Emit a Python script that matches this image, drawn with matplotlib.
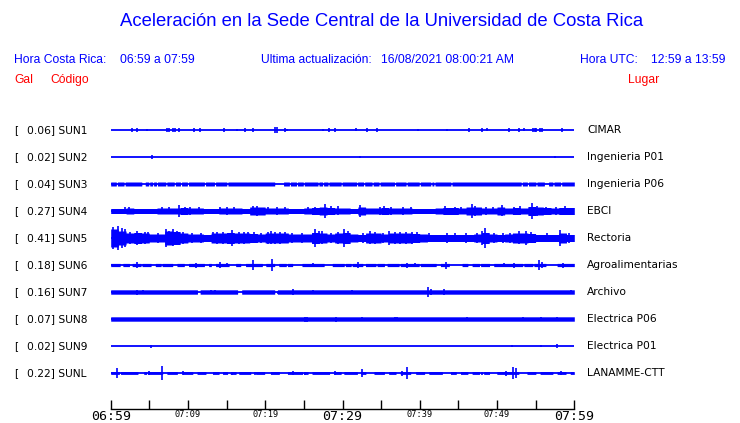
import numpy as np
import matplotlib
matplotlib.use("Agg")
import matplotlib.pyplot as plt

BLUE = "#0000ff"
RED = "#ff0000"

# station info
codes = ["SUN1", "SUN2", "SUN3", "SUN4", "SUN5", "SUN6", "SUN7", "SUN8", "SUN9", "SUNL"]
gal = ["0.06", "0.02", "0.04", "0.27", "0.41", "0.18", "0.16", "0.07", "0.02", "0.22"]
places = ["CIMAR", "Ingenieria P01", "Ingenieria P06", "EBCI", "Rectoria",
          "Agroalimentarias", "Archivo", "Electrica P06", "Electrica P01", "LANAMME-CTT"]

tick_min = list(range(0, 61, 5))
tick_txt = ["06:59", "", "07:09", "", "07:19", "", "07:29", "", "07:39", "", "07:49", "", "07:59"]
big_ticks = ["06:59", "07:29", "07:59"]

# steady band half-width of each trace (display units, one row = 27)
band = [0, 0, 2.0, 0, 0, 1.6, 2.2, 2.2, 0, 1.4]

# per-minute envelope for the busy traces
env_SUN4 = [2.5, 2.5, 3, 2.5, 2.5, 2.5, 3, 3, 3, 3.5, 3, 3, 2.5, 2.5, 3, 3, 3, 2.5, 4, 4,
            3, 3, 3, 2.5, 2.5, 3, 3.5, 4, 3.5, 3, 3, 2.5, 4, 3, 3, 3.5, 3, 3, 3, 2.5,
            2.5, 2.5, 3, 3.5, 3.5, 3, 4, 4, 3, 3, 4, 3, 3.5, 3, 4.5, 4, 3.5, 3, 3.5, 3.5]
env_SUN5 = [9, 7, 5, 5.5, 5, 4, 4, 7, 6.5, 5, 4, 4, 3.5, 5, 5, 5.5, 5, 5, 4.5, 4,
            5, 5, 5, 4, 4, 4, 5.5, 5, 4, 5, 5.5, 4, 3.5, 5, 5, 4, 5, 5, 5, 4.5,
            4, 3.5, 3.5, 3.5, 3.5, 3.5, 3.5, 4, 5.5, 4, 3.5, 4, 5, 5, 4.5, 3.5, 3.5, 3.5, 5, 3.5]
envelopes = {"SUN4": env_SUN4, "SUN5": env_SUN5}

# stretches (minutes) where the band drops to a plain line
thin_SUN3 = [(0.8, 0.8), (1.8, 1.8), (4.1, 4.4), (5.0, 5.0), (5.5, 5.5), (6.0, 6.0), (7.2, 7.2),
             (8.3, 8.3), (9.1, 9.1), (10.0, 10.0), (12.2, 12.2), (13.5, 13.5), (15.1, 15.1),
             (21.3, 22.3), (23.2, 23.2), (24.1, 24.1), (25.0, 25.0), (26.9, 26.9), (27.5, 27.5),
             (28.2, 28.2), (29.9, 29.9), (31.9, 31.9), (32.8, 32.8), (33.9, 33.9), (34.8, 34.8),
             (36.8, 36.8), (38.3, 38.3), (40.0, 40.0), (41.5, 41.5), (41.9, 41.9), (44.1, 44.1),
             (53.2, 53.2), (54.0, 54.0), (55.1, 55.1), (56.2, 56.6), (57.3, 57.3), (58.3, 58.3)]
thin_SUN6 = [(1.3, 1.5), (2.5, 2.7), (4.0, 4.0), (5.3, 5.7), (6.6, 6.6), (8.1, 8.5), (9.6, 10.0),
             (12.2, 12.6), (13.1, 13.5), (15.4, 16.1), (16.9, 17.4), (19.7, 20.0), (21.3, 21.7),
             (22.8, 22.8), (23.6, 24.7), (27.7, 28.6), (30.3, 30.3), (31.2, 31.2), (32.7, 32.9),
             (34.4, 34.4), (35.5, 35.7), (37.4, 37.4), (40.0, 40.0), (42.2, 42.6), (43.9, 45.4),
             (46.3, 46.7), (47.8, 47.8), (49.1, 49.5), (53.4, 53.4), (54.7, 54.7), (56.4, 57.7)]
thin_SUN7 = [(11.3, 11.5), (16.5, 16.9), (21.3, 21.5)]
thin_SUNL = [(1.2, 1.2), (3.6, 4.2), (4.7, 4.7), (6.8, 7.2), (8.7, 9.2), (10.7, 11.1), (12.4, 13.1),
             (14.1, 14.4), (15.2, 15.4), (16.3, 16.5), (18.2, 18.7), (20.0, 20.6), (21.9, 22.8),
             (24.9, 24.9), (25.6, 26.0), (28.4, 28.8), (29.9, 30.1), (32.0, 32.3), (33.1, 34.0),
             (35.5, 35.9), (37.0, 37.4), (38.9, 39.4), (40.7, 41.1), (43.0, 43.9), (44.8, 45.2),
             (46.3, 46.7), (47.8, 48.2), (49.1, 49.9), (52.9, 53.8), (55.1, 55.5), (57.3, 57.7),
             (59.0, 59.4)]
thin = {"SUN3": thin_SUN3, "SUN6": thin_SUN6, "SUN7": thin_SUN7, "SUNL": thin_SUNL}

# spikes: (minute, half amplitude)
spk_SUN1 = [(2.8, 2.0), (3.4, 2.0), (4.7, 1.4), (7.3, 2.2), (7.5, 2.2), (8.1, 2.2), (8.3, 2.2),
            (8.9, 1.9), (10.8, 1.9), (11.5, 1.9), (14.6, 1.9), (16.3, 1.4), (17.4, 1.9),
            (18.4, 1.9), (21.3, 2.7), (21.5, 2.7), (22.5, 1.9), (22.8, 1.4), (27.5, 1.4),
            (28.3, 1.9), (29.0, 1.9), (31.7, 1.5), (33.2, 2.0), (34.5, 2.0), (39.8, 1.4),
            (43.5, 1.4), (46.4, 2.0), (48.0, 1.9), (48.7, 1.5), (51.6, 1.9), (52.9, 2.2),
            (53.5, 1.5), (54.6, 2.0), (54.9, 2.0), (55.1, 2.0), (55.5, 2.0), (55.8, 2.0), (58.4, 1.9)]
spk_SUN2 = [(5.3, 2.2), (32.3, 1.4), (57.5, 1.4)]
spk_SUN3 = []
spk_SUN4 = [(1.8, 3.5), (2.4, 3.5), (6.6, 3.5), (7.5, 3.5), (8.9, 6.0), (9.6, 4.0), (10.3, 4.0),
            (11.4, 3.5), (14.2, 3.5), (15.1, 4.0), (16.0, 3.5), (18.4, 4.5), (18.9, 5.0),
            (20.4, 3.5), (21.5, 4.0), (22.6, 3.5), (25.5, 3.5), (26.5, 4.0), (27.7, 7.0),
            (28.5, 4.5), (29.4, 4.5), (32.3, 6.0), (34.8, 4.0), (35.4, 4.5), (36.3, 4.0),
            (37.8, 4.0), (38.9, 3.5), (43.3, 4.5), (44.5, 4.0), (45.3, 3.5), (46.8, 7.0),
            (47.2, 5.0), (48.6, 4.0), (49.5, 3.5), (50.6, 5.5), (52.2, 4.0), (53.0, 4.5),
            (54.5, 8.0), (55.2, 5.0), (56.4, 4.0), (57.6, 4.0), (58.8, 4.5)]
spk_SUN5 = [(0.3, 11), (0.6, 8), (0.9, 12), (1.4, 10), (1.9, 9), (2.5, 6), (3.4, 7), (4.4, 6),
            (4.8, 5.5), (6.1, 5), (7.2, 9), (7.6, 7), (8.0, 8.5), (8.6, 7), (9.3, 6), (10.5, 5),
            (11.7, 5), (13.3, 5.5), (13.8, 6), (14.5, 6), (15.7, 8), (16.6, 6), (17.2, 6),
            (17.8, 5.5), (18.6, 5.5), (19.5, 5), (20.3, 6), (20.8, 6.5), (21.3, 6), (21.9, 6),
            (22.6, 5.5), (23.5, 5), (24.8, 5), (26.4, 9), (26.9, 6.5), (27.3, 6.5), (28.5, 5),
            (29.4, 6), (30.2, 9), (30.7, 6.5), (32.7, 5), (33.6, 6.5), (34.2, 6), (35.2, 5),
            (36.0, 7), (36.8, 6), (37.5, 6), (38.2, 6), (39.0, 6), (39.7, 5.5), (41.2, 4.5),
            (43.5, 5), (44.6, 4.5), (46.0, 5), (47.4, 5), (48.1, 7), (48.4, 10), (49.6, 5),
            (50.8, 5), (51.7, 5), (52.9, 6.5), (53.7, 7), (54.4, 5.5), (56.5, 4.5), (58.2, 8),
            (59.3, 5)]
spk_SUN6 = [(3.4, 3.0), (11.1, 2.5), (14.1, 3.0), (15.1, 2.0), (18.4, 5.0), (20.9, 6.0), (26.2, 2.0),
            (32.0, 3.0), (38.3, 2.5), (39.4, 2.0), (43.4, 3.5), (50.9, 2.0), (52.2, 2.5),
            (55.4, 5.0), (55.8, 3.0), (58.6, 2.5)]
spk_SUN7 = [(3.4, 2.5), (4.2, 2.0), (4.7, 1.5), (9.6, 1.5), (11.8, 1.5), (13.0, 2.0), (13.5, 2.0),
            (14.7, 1.5), (18.3, 1.5), (19.6, 1.5), (21.6, 1.5), (23.6, 3.0), (26.2, 2.0),
            (28.6, 1.5), (29.4, 1.5), (30.2, 1.5), (31.2, 2.0), (31.5, 1.5), (41.1, 5.0),
            (41.4, 3.0), (43.2, 3.0), (50.6, 1.5), (53.2, 1.5), (56.5, 1.5), (57.3, 1.5), (59.6, 2.0)]
spk_SUN8 = [(12.5, 1.5), (15.2, 1.5), (19.5, 1.5), (25.1, 2.5), (25.4, 2.5), (29.2, 2.5),
            (32.5, 2.0), (34.8, 1.5), (36.8, 2.3), (37.0, 2.3), (46.1, 2.0), (49.4, 1.5),
            (51.8, 1.5), (53.4, 2.0), (55.7, 2.0), (57.7, 2.0)]
spk_SUN9 = [(5.2, 1.5), (52.0, 1.0), (55.7, 1.3), (57.7, 1.6)]
spk_SUNL = [(0.8, 5.0), (4.9, 2.0), (6.7, 7.0), (9.4, 2.0), (15.7, 1.5), (18.7, 1.5), (23.6, 2.0),
            (25.1, 1.5), (29.0, 2.0), (32.5, 4.0), (37.7, 2.5), (38.4, 6.0), (48.0, 1.5),
            (51.2, 2.5), (52.1, 6.0), (52.4, 5.0), (58.3, 2.0)]
spikes = {"SUN1": spk_SUN1, "SUN2": spk_SUN2, "SUN3": spk_SUN3, "SUN4": spk_SUN4,
          "SUN5": spk_SUN5, "SUN6": spk_SUN6, "SUN7": spk_SUN7, "SUN8": spk_SUN8,
          "SUN9": spk_SUN9, "SUNL": spk_SUNL}

W, H = 740, 423
fig = plt.figure(figsize=(W / 100, H / 100), dpi=100)
fig.patch.set_facecolor("white")

row = 27.0
x0, x1 = 110.7, 574.3
top_px = 130 - row / 2
ax = fig.add_axes([x0 / W, 1 - (top_px + 10 * row) / H, (x1 - x0) / W, 10 * row / H])
ax.set_xlim(0, 60)
ax.set_ylim(-9.5 * row, 0.5 * row)
ax.axis("off")

t = np.linspace(0, 60, 3001)
for i, c in enumerate(codes):
    y0 = -i * row
    ax.plot(t[[0, -1]], [y0, y0], color=BLUE, lw=1.3, solid_capstyle="butt")
    if c in envelopes:
        idx = np.minimum(t.astype(int), 59)
        env = np.array(envelopes[c], dtype=float)[idx]
    else:
        env = np.full_like(t, band[i])
    for a, b in thin.get(c, []):
        env[(t >= a - 0.06) & (t <= b + 0.06)] = 0
    if env.max() > 0:
        ax.fill_between(t, y0 - env, y0 + env, color=BLUE, lw=0)
    if spikes[c]:
        m = [s[0] for s in spikes[c]]
        a = np.array([s[1] for s in spikes[c]])
        ax.vlines(m, y0 - a, y0 + a, color=BLUE, lw=1.2)

    yf = 1 - (130 + i * row) / H
    fig.text(14 / W, yf, "[", fontsize=7.5, family="DejaVu Sans", va="center")
    fig.text(27 / W, yf, gal[i] + "] " + c, fontsize=7.7, family="DejaVu Sans", va="center")
    fig.text(587 / W, yf, places[i], fontsize=7.7, family="DejaVu Sans", va="center")

# time axis
axt = fig.add_axes([x0 / W, 1 - 409 / H, (x1 - x0) / W, 9 / H])
axt.set_xlim(0, 60)
axt.set_ylim(0, 1)
for s in ["top", "left", "right"]:
    axt.spines[s].set_visible(False)
axt.spines["bottom"].set_linewidth(1.0)
axt.set_yticks([])
axt.set_xticks(tick_min)
axt.set_xticklabels(tick_txt)
axt.tick_params(axis="x", direction="in", length=6.5, width=1.0, pad=1)
for lab in axt.get_xticklabels():
    lab.set_family("DejaVu Sans Mono")
    lab.set_fontsize(9.5 if lab.get_text() in big_ticks else 6.2)
axt.patch.set_alpha(0)

# header
hf = "Liberation Sans"
fs = 8.7
fig.text(382 / W, 1 - 21 / H, "Aceleración en la Sede Central de la Universidad de Costa Rica",
         fontsize=13.3, family=hf, color=BLUE, ha="center", va="center")
fig.text(14 / W, 1 - 60 / H, "Hora Costa Rica:", fontsize=fs, family=hf, color=BLUE, va="center")
fig.text(120 / W, 1 - 60 / H, "06:59 a 07:59", fontsize=fs, family=hf, color=BLUE, va="center")
fig.text(261 / W, 1 - 60 / H, "Ultima actualización:", fontsize=fs, family=hf, color=BLUE, va="center")
fig.text(381 / W, 1 - 60 / H, "16/08/2021 08:00:21 AM", fontsize=fs, family=hf, color=BLUE, va="center")
fig.text(580 / W, 1 - 60 / H, "Hora UTC:", fontsize=fs, family=hf, color=BLUE, va="center")
fig.text(651 / W, 1 - 60 / H, "12:59 a 13:59", fontsize=fs, family=hf, color=BLUE, va="center")
fig.text(14 / W, 1 - 80 / H, "Gal", fontsize=fs, family=hf, color=RED, va="center")
fig.text(50 / W, 1 - 80 / H, "Código", fontsize=fs, family=hf, color=RED, va="center")
fig.text(628 / W, 1 - 80 / H, "Lugar", fontsize=fs, family=hf, color=RED, va="center")

fig.savefig("out.png", dpi=100)
